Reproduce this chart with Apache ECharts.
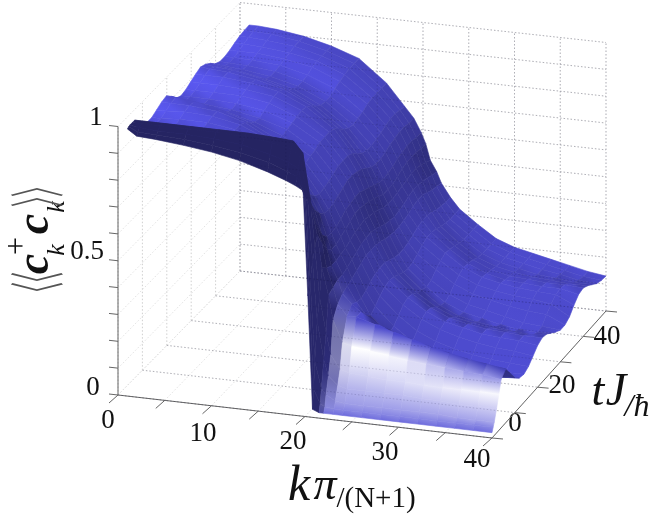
<!DOCTYPE html>
<html>
<head>
<meta charset="utf-8">
<style>
  html, body { margin: 0; padding: 0; background: #fff; }
  #main { width: 653px; height: 523px; filter: blur(.45px); }
</style>
<script src="https://cdn.jsdelivr.net/npm/echarts@6/dist/echarts.min.js"></script>
</head>
<body>
<div id="main"></div>
<script>
// surface values, one list per k column, over tValues
var kValues = [1, 2, 4, 7, 10, 13, 16, 18, 19, 19.8, 20.3, 20.8, 21.5, 22, 23, 24, 26, 28, 30, 32, 34, 36, 38, 40];
var tValues = [0, 0.5, 1, 2, 3, 4, 6, 8, 10, 12, 14, 16, 18, 20, 22, 24, 26, 28, 30, 32, 34, 36, 38, 40, 42, 44, 46, 48, 50];

var k1 = [.995, .998, 1, 1, 1, .96, .95, .945, .945, .955, .965, .97, .95, .925, .915, .92, .93, .94, .948, .94, .925, .905, .895, .895, .90, .908, .915, .918, .92];
var k2 = [.972, .983, .995, 1, 1, .96, .95, .945, .945, .955, .965, .968, .945, .92, .915, .92, .93, .94, .946, .935, .92, .90, .893, .895, .90, .908, .915, .918, .92];
var k4 = [.968, .98, .99, 1, 1, .96, .95, .945, .95, .96, .965, .96, .935, .915, .915, .92, .93, .94, .94, .93, .91, .895, .89, .892, .90, .905, .91, .915, .915];
var k7 = [.958, .975, .99, 1, 1, .955, .945, .945, .95, .955, .955, .94, .915, .905, .91, .92, .925, .93, .925, .91, .89, .88, .88, .885, .89, .895, .90, .90, .90];
var k10 = [.945, .965, .985, 1, 1, .945, .94, .935, .935, .935, .925, .905, .89, .885, .895, .905, .91, .91, .90, .88, .865, .855, .855, .86, .87, .875, .875, .875, .875];
var k13 = [.925, .95, .975, .995, 1, .93, .92, .91, .90, .89, .87, .855, .85, .855, .86, .865, .87, .865, .85, .83, .815, .81, .81, .82, .83, .835, .84, .84, .84];
var k16 = [.895, .925, .95, .985, .995, .90, .875, .85, .825, .80, .785, .78, .785, .79, .80, .80, .80, .795, .775, .755, .74, .735, .74, .745, .755, .76, .76, .76, .76];
var k18 = [.87, .90, .93, .97, .99, .85, .80, .76, .725, .70, .69, .695, .70, .71, .72, .72, .72, .71, .69, .675, .665, .665, .67, .675, .685, .69, .69, .685, .68];
var k19 = [.855, .885, .91, .94, .95, .80, .74, .69, .66, .64, .635, .64, .65, .66, .67, .67, .665, .655, .64, .625, .62, .62, .625, .635, .64, .645, .645, .64, .64];
var k20 = [.84, .82, .80, .78, .78, .72, .65, .60, .575, .57, .575, .585, .60, .605, .61, .61, .60, .59, .58, .57, .565, .57, .575, .585, .59, .595, .595, .59, .59];
var k20h = [.45, .47, .50, .56, .60, .64, .59, .55, .53, .53, .54, .55, .56, .57, .57, .565, .56, .55, .54, .53, .53, .53, .54, .55, .555, .555, .555, .55, .55];
var k21 = [.03, .10, .20, .34, .42, .52, .50, .49, .49, .495, .50, .51, .52, .525, .53, .525, .52, .51, .50, .495, .495, .50, .505, .51, .515, .515, .51, .50, .49];
var k21h = [.02, .05, .10, .20, .29, .42, .43, .44, .44, .45, .46, .47, .48, .485, .485, .48, .47, .46, .455, .45, .455, .46, .47, .475, .475, .47, .465, .455, .45];
var k22 = [.02, .04, .08, .14, .21, .33, .37, .39, .40, .41, .42, .43, .44, .44, .44, .435, .425, .42, .415, .415, .42, .425, .435, .44, .44, .43, .42, .415, .41];
var k23 = [.02, .035, .06, .11, .16, .25, .33, .355, .345, .34, .35, .365, .375, .38, .38, .37, .36, .355, .355, .36, .37, .38, .385, .385, .38, .37, .365, .36, .36];
var k24 = [.02, .035, .055, .10, .15, .24, .33, .33, .30, .28, .295, .315, .33, .335, .33, .32, .31, .305, .31, .32, .335, .345, .345, .34, .33, .325, .32, .32, .32];
var k26 = [.02, .035, .055, .10, .145, .23, .31, .29, .245, .22, .23, .25, .27, .28, .275, .26, .25, .245, .25, .27, .285, .295, .29, .285, .275, .27, .27, .27, .27];
var k28 = [.02, .035, .055, .10, .14, .22, .29, .26, .20, .17, .18, .20, .225, .235, .23, .215, .20, .195, .205, .225, .24, .25, .245, .24, .23, .225, .225, .225, .225];
var k30 = [.02, .035, .055, .10, .14, .21, .27, .235, .17, .14, .15, .17, .195, .205, .20, .185, .17, .165, .175, .195, .21, .22, .215, .21, .205, .20, .20, .20, .20];
var k32 = [.02, .035, .055, .095, .135, .205, .25, .215, .155, .125, .13, .15, .175, .19, .185, .17, .155, .15, .16, .18, .195, .205, .20, .195, .19, .185, .185, .185, .185];
var k34 = [.02, .035, .055, .095, .135, .20, .235, .195, .145, .115, .115, .135, .16, .175, .175, .16, .145, .135, .145, .165, .185, .195, .195, .19, .18, .17, .17, .17, .17];
var k36 = [.02, .035, .05, .09, .135, .195, .22, .185, .135, .11, .11, .125, .15, .17, .17, .155, .135, .125, .13, .155, .18, .19, .19, .185, .175, .165, .16, .155, .155];
var k38 = [.02, .035, .05, .09, .135, .19, .21, .175, .13, .105, .105, .12, .145, .165, .165, .15, .13, .12, .125, .15, .17, .185, .19, .185, .17, .155, .145, .14, .14];
var k40 = [.02, .035, .05, .09, .135, .18, .20, .165, .13, .11, .105, .115, .135, .155, .165, .16, .145, .13, .118, .118, .13, .155, .175, .18, .17, .155, .14, .133, .13];
var columns = [k1, k2, k4, k7, k10, k13, k16, k18, k19, k20, k20h, k21, k21h, k22, k23, k24, k26, k28, k30, k32, k34, k36, k38, k40];

var kTicks = [0, 5, 10, 15, 20, 25, 30, 35, 40];
var tTicks = [0, 10, 20, 30, 40, 50];
var zTicks = [0, .1, .2, .3, .4, .5, .6, .7, .8, .9, 1];
var kLabels = ['0', '10', '20', '30', '40'];
var tLabels = ['0', '20', '40'];
var zLabels = ['1', '0.5', '0'];

// floor corners of the box on the page, the box is seen with a little perspective
var KMAX = 40, TMAX = 50, ZPX = 268.5;
function project(k, t, z) {
  var u = k / KMAX, v = t / TMAX;
  var x = (1 - u) * (1 - v) * 118 + u * (1 - v) * 492 + u * v * 606 + (1 - u) * v * 240;
  var y = (1 - u) * (1 - v) * 395 + u * (1 - v) * 438 + u * v * 311 + (1 - u) * v * 271;
  return [x, y - z * ZPX];
}

function clamp(a, lo, hi) {
  return Math.max(lo, Math.min(hi, a));
}

// first row where the column stops rising, the white arc ends there
function crestRow(col) {
  for (var j = 0; j < col.length - 1; j++) {
    if (col[j + 1] < col[j]) return j;
  }
  return col.length - 1;
}

function vertexColor(i, j) {
  var col = columns[i];
  var z = col[j];
  var j0 = Math.max(j - 1, 0), j1 = Math.min(j + 1, tValues.length - 1);
  var i0 = Math.max(i - 2, 0), i1 = Math.min(i + 2, kValues.length - 1);
  var st = (col[j1] - col[j0]) / (tValues[j1] - tValues[j0]);
  var sk = (columns[i1][j] - columns[i0][j]) / (kValues[i1] - kValues[i0]);

  var dark = clamp(-sk * 5, 0, .5);
  dark += z < .3 ? clamp(-st * 25, 0, .38) : clamp(-st * 5, 0, .12);
  var lift = z > .8 ? clamp(st * 25, 0, .16) : 0;
  var m = clamp(1 - dark + lift, .42, 1.3);
  if (tValues[j] <= 3 && z > .6) {
    m = .46; // front face of the band
  }
  var r = 80 * m, g = 78 * m, b = 214 * Math.min(m, 1.12);

  var crest = crestRow(col);
  if (kValues[i] >= 21.5 && j <= crest) {
    // lavender at the foot, white most of the way up, blue again at the crest
    var f = z / col[crest];
    var w = f < .75 ? .45 + .55 * clamp((f - .2) / .5, 0, 1) : clamp((1 - f) / .25, 0, 1);
    w *= clamp((sk + .055) / .02, 0, 1);
    w *= clamp(z / .05, .2, 1);
    r += (255 - r) * w;
    g += (255 - g) * w;
    b += (255 - b) * w;
  }
  return [r, g, b];
}

var vertexColors = columns.map(function (col, i) {
  return col.map(function (z, j) {
    return vertexColor(i, j);
  });
});

function mix(list) {
  var s = [0, 0, 0];
  list.forEach(function (c) {
    s[0] += c[0]; s[1] += c[1]; s[2] += c[2];
  });
  return 'rgb(' + Math.round(s[0] / list.length) + ',' + Math.round(s[1] / list.length) + ',' + Math.round(s[2] / list.length) + ')';
}

// back to front: far t first, and from k small to k large inside a row
var cells = [];
for (var j = tValues.length - 2; j >= 0; j--) {
  for (var i = 0; i < kValues.length - 1; i++) {
    cells.push([i, j]);
  }
}

function surfaceItem(params, api) {
  var i = api.value(0), j = api.value(1);
  var corners = [[i, j], [i + 1, j], [i + 1, j + 1], [i, j + 1]].map(function (c) {
    return api.coord(project(kValues[c[0]], tValues[c[1]], columns[c[0]][c[1]]));
  });
  var from = [(corners[0][0] + corners[1][0]) / 2, (corners[0][1] + corners[1][1]) / 2];
  var to = [(corners[2][0] + corners[3][0]) / 2, (corners[2][1] + corners[3][1]) / 2];
  var a = vertexColors[i][j], b = vertexColors[i + 1][j];
  var c = vertexColors[i + 1][j + 1], d = vertexColors[i][j + 1];
  var paint = new echarts.graphic.LinearGradient(from[0], from[1], to[0], to[1], [
    { offset: 0, color: mix([a, b]) },
    { offset: 1, color: mix([c, d]) }
  ], true);
  return {
    type: 'polygon',
    shape: { points: corners },
    style: { fill: paint, stroke: paint, lineWidth: .6 }
  };
}

// box lines: [k0, t0, z0, k1, t1, z1, kind]
var wallLines = [], axisLines = [], overLines = [];
kTicks.forEach(function (k) {
  wallLines.push([k, 0, 0, k, TMAX, 0, 1]);
  wallLines.push([k, TMAX, 0, k, TMAX, 1, 0]);
  overLines.push([k, TMAX, 0, k, TMAX, 1, 0]);
  axisLines.push([k, 0, 0, k, 0, 0, 2]);
});
tTicks.forEach(function (t) {
  wallLines.push([0, t, 0, KMAX, t, 0, 0]);
  wallLines.push([0, t, 0, 0, t, 1, 0]);
  overLines.push([0, t, 0, KMAX, t, 0, 0]);
  axisLines.push([KMAX, t, 0, KMAX, t, 0, 3]);
});
zTicks.forEach(function (z) {
  wallLines.push([0, 0, z, 0, TMAX, z, 1]);
  wallLines.push([0, TMAX, z, KMAX, TMAX, z, 0]);
  overLines.push([0, TMAX, z, KMAX, TMAX, z, 0]);
  axisLines.push([0, 0, z, 0, 0, z, 4]);
});
axisLines.push([0, 0, 0, 0, 0, 1, 5]);
axisLines.push([0, 0, 0, KMAX, 0, 0, 5]);
axisLines.push([KMAX, 0, 0, KMAX, TMAX, 0, 5]);

var tickOffset = { 2: [-9, 8], 3: [11, 1], 4: [-9, -1] };

function lineItem(stroke, dash, width, opacity) {
  return function (params, api) {
    var a = project(api.value(0), api.value(1), api.value(2));
    var b = project(api.value(3), api.value(4), api.value(5));
    var kind = api.value(6);
    if (tickOffset[kind]) {
      b = [a[0] + tickOffset[kind][0], a[1] + tickOffset[kind][1]];
    }
    var p = api.coord(a), q = api.coord(b);
    return {
      type: 'line',
      shape: { x1: p[0], y1: p[1], x2: q[0], y2: q[1] },
      style: {
        stroke: kind === 1 ? '#e2e2e2' : stroke,
        lineDash: dash,
        lineWidth: width,
        opacity: opacity
      }
    };
  };
}

function label(text, x, y, size, extra) {
  extra = extra || {};
  var el = {
    type: 'text',
    silent: true,
    x: x,
    y: y,
    rotation: extra.rotation || 0,
    scaleX: extra.scaleX || 1,
    style: {
      text: text,
      x: 0,
      y: 0,
      fill: extra.fill || '#111',
      font: (extra.font ? extra.font + ' ' : '') + size + 'px ' + (extra.family || '"Liberation Serif"'),
      textAlign: 'center',
      textVerticalAlign: 'middle'
    }
  };
  return el;
}

// ticks labels sit where the figure has them
var labelPos = {
  k: [[108, 421], [203, 434], [293, 442], [385, 453], [477, 460]],
  t: [[515, 424], [562, 386], [607, 337]],
  z: [[96, 118], [87, 252], [93, 388]]
};
var graphics = [];
kLabels.forEach(function (s, n) { graphics.push(label(s, labelPos.k[n][0], labelPos.k[n][1], 27)); });
tLabels.forEach(function (s, n) { graphics.push(label(s, labelPos.t[n][0], labelPos.t[n][1], 27)); });
zLabels.forEach(function (s, n) { graphics.push(label(s, labelPos.z[n][0], labelPos.z[n][1], 27)); });

// k axis title
graphics.push(label('k', 299, 487, 50, { font: 'italic' }));
graphics.push(label('π', 325, 487, 46, { font: 'italic' }));
graphics.push(label('/(N+1)', 376, 499, 29));
// t axis title
graphics.push(label('t', 598, 393, 46, { font: 'italic' }));
graphics.push(label('J', 616, 393, 46, { font: 'italic' }));
graphics.push(label('/ħ', 637, 408, 32, { font: 'italic' }));
// z axis title, turned a quarter
var quarter = Math.PI / 2;
graphics.push(label('c', 36, 264, 46, { font: 'italic bold', rotation: quarter }));
graphics.push(label('+', 18, 246, 32, { rotation: quarter }));
graphics.push(label('k', 57, 250, 26, { font: 'italic', rotation: quarter }));
graphics.push(label('c', 36, 224, 46, { font: 'italic bold', rotation: quarter }));
graphics.push(label('k', 57, 207, 26, { font: 'italic', rotation: quarter }));
var bracket = { rotation: quarter, scaleX: .4, fill: '#555', family: '"Noto Sans CJK SC"' };
graphics.push(label('\u3008', 37, 293, 56, bracket));
graphics.push(label('\u3008', 37, 283, 56, bracket));
graphics.push(label('\u3009', 37, 186, 56, bracket));
graphics.push(label('\u3009', 37, 196, 56, bracket));

var chart = echarts.init(document.getElementById('main'), null, { renderer: 'canvas', width: 653, height: 523 });

var option = {
  animation: false,
  backgroundColor: '#fff',
  grid: { left: 0, right: 0, top: 0, bottom: 0 },
  xAxis: { type: 'value', min: 0, max: 653, show: false },
  yAxis: { type: 'value', min: 0, max: 523, inverse: true, show: false },
  graphic: graphics,
  series: [{
    type: 'custom',
    coordinateSystem: 'cartesian2d',
    clip: false,
    silent: true,
    progressive: 0,
    renderItem: lineItem('#cfcfcf', [1.5, 2], 1, 1),
    data: wallLines,
    z: 1
  }, {
    type: 'custom',
    coordinateSystem: 'cartesian2d',
    clip: false,
    silent: true,
    progressive: 0,
    renderItem: lineItem('#666', null, 1, 1),
    data: axisLines,
    z: 2
  }, {
    type: 'custom',
    coordinateSystem: 'cartesian2d',
    clip: false,
    silent: true,
    progressive: 0,
    renderItem: surfaceItem,
    data: cells,
    z: 3
  }, {
    type: 'custom',
    coordinateSystem: 'cartesian2d',
    clip: false,
    silent: true,
    progressive: 0,
    renderItem: lineItem('#14143c', [1.5, 2], 1, .16),
    data: overLines,
    z: 4
  }]
};
chart.setOption(option);
</script>
</body>
</html>
